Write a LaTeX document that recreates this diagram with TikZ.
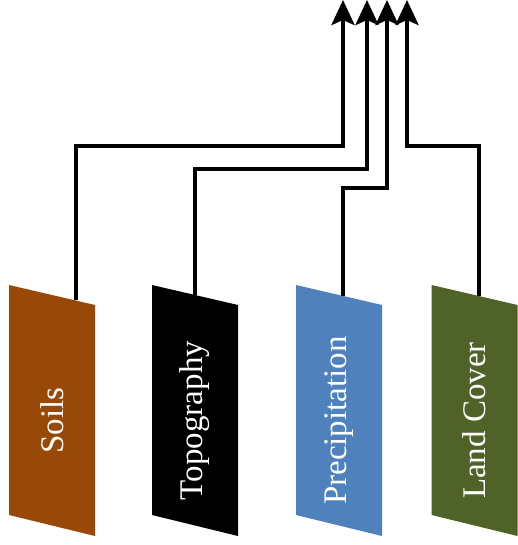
\documentclass[tikz,border=0pt]{standalone}
\usepackage{fontspec}
\setmainfont{Liberation Serif}
\usepackage{graphicx}
\usetikzlibrary{arrows.meta}

\definecolor{soilbrown}{HTML}{984807}
\definecolor{rainblue}{HTML}{4F81BD}
\definecolor{covergreen}{HTML}{4F6228}

% rotated label, pushed a little down the panel
\newcommand{\uplabel}[1]{\rotatebox{90}{#1\hspace*{20pt}}}

\tikzset{
	layer/.style={minimum width=86pt, minimum height=251pt, inner sep=0pt, text=white,
		font=\fontsize{33}{40}\selectfont,
		path picture={\fill[#1] (path picture bounding box.north west)
			-- ([yshift=-20pt]path picture bounding box.north east)
			-- (path picture bounding box.south east)
			-- ([yshift=21pt]path picture bounding box.south west) -- cycle;}},
	feed/.style={line width=4pt, -{Stealth[length=25pt, width=23pt, inset=5pt]}}
}

\begin{document}
\begin{tikzpicture}[x=1pt, y=-1pt]
			\useasboundingbox (0,0) rectangle (517,545);

			% Layers
			\node[layer=soilbrown] (soils) at (52,410.5) {\uplabel{Soils}};            % Left
			\node[layer=black] (topo) at (195,410.5) {\uplabel{Topography}};           % Second
			\node[layer=rainblue] (precip) at (339,410.5) {\uplabel{Precipitation}};   % Third
			\node[layer=covergreen] (cover) at (474.5,410.5) {\uplabel{Land Cover}};   % Right

			% Outputs
			\coordinate (out1) at (343,0);
			\coordinate (out2) at (367,0);
			\coordinate (out3) at (387,0);
			\coordinate (out4) at (407,0);

			% Feeds
			\draw[feed] ([xshift=24pt, yshift=-15.5pt]soils.north) |- (343,146) -- (out1);
			\draw[feed] ([yshift=-10pt]topo.north) |- (367,169) -- (out2);
			\draw[feed] ([xshift=4pt, yshift=-11pt]precip.north) |- (387,188) -- (out3);
			\draw[feed] ([xshift=4.5pt, yshift=-11pt]cover.north) |- (407,146) -- (out4);
		\end{tikzpicture}
\end{document}
